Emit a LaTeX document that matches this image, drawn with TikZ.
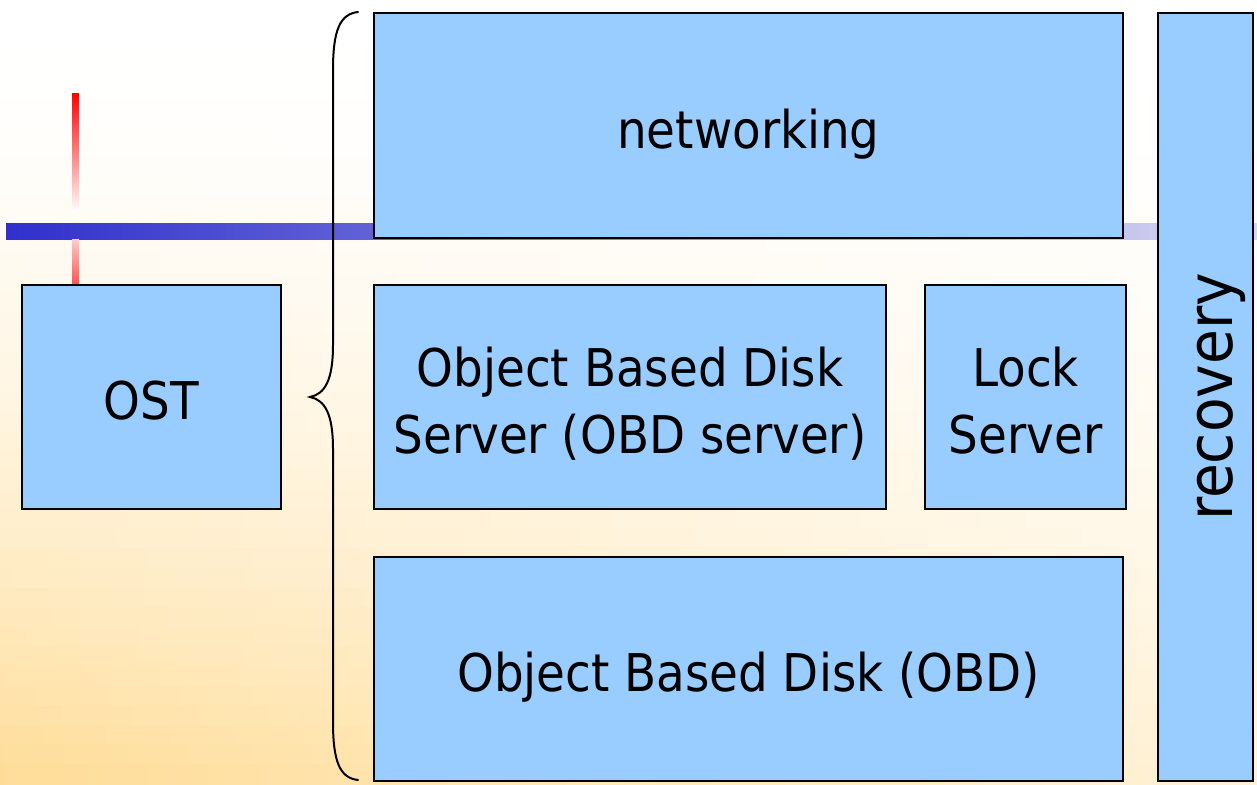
\documentclass[tikz,border=0pt]{standalone}
\usepackage{fontspec}
\setmainfont{DejaVu Sans Condensed}
\definecolor{boxblue}{HTML}{99CCFF}
\definecolor{bgcorner}{HTML}{FFDC96}
\definecolor{barleft}{HTML}{3030CC}
\definecolor{barright}{HTML}{D8D8F2}
\tikzset{
  box/.style={draw=black, line width=2pt, fill=boxblue, anchor=north west, inner sep=0pt},
  boxtext/.style={font=\fontsize{52}{67}\selectfont, inner sep=0pt, align=center, text depth=0pt},
}
\begin{document}
\begin{tikzpicture}[x=1pt,y=-1pt]
\useasboundingbox (0,0) rectangle (1257,784);
% background
\foreach \i in {0,...,39}{
  \pgfmathtruncatemacro\tl{100*((\i+0.5)/40)^1.8}
  \pgfmathtruncatemacro\tr{38*((\i+0.5)/40)^1.8}
  \pgfmathsetmacro\ya{\i*19.6}
  \pgfmathsetmacro\yb{\i*19.6+20.6}
  \shade[left color=bgcorner!\tl!white, right color=bgcorner!\tr!white] (0,\ya) rectangle (1257,\yb);
}
% blue bar
\shade[left color=barleft, right color=barright] (6,223) rectangle (1257,239);
% red line
\shade[top color=red, bottom color=white] (72,93) rectangle (79,212);
\shade[top color=red!20, bottom color=red!68] (72,239) rectangle (79,284);
% boxes
\node[box, minimum width=749pt, minimum height=225pt] (net) at (373,12) {};
\node[box, minimum width=259pt, minimum height=224pt] (ost) at (21,284) {};
\node[box, minimum width=512pt, minimum height=224pt] (obds) at (373,284) {};
\node[box, minimum width=201pt, minimum height=224pt] (lock) at (924,284) {};
\node[box, minimum width=749pt, minimum height=224pt] (obd) at (373,556) {};
\node[box, minimum width=95pt, minimum height=768pt] (rec) at (1157,12) {};
% texts
\node[boxtext] (nettext) at ([yshift=-3pt]net.center) {networking};
\node[boxtext] (osttext) at ([yshift=-3pt]ost.center) {OST};
\node[boxtext] (obdstext) at ([yshift=-3pt]obds.center) {Object Based Disk\\Server (OBD server)};
\node[boxtext] (locktext) at ([yshift=-3pt]lock.center) {Lock\\Server};
\node[boxtext] (obdtext) at ([yshift=-3pt]obd.center) {Object Based Disk (OBD)};
\node[inner sep=0pt, font=\fontsize{63}{70}\selectfont, rotate=90] (rectext) at ([xshift=16pt]rec.center) {recovery};
% brace
\draw[line width=2pt, line cap=round] (358,12) .. controls (340,14) and (333,30) .. (333,70)
  -- (333,345) .. controls (333,380) and (325,394) .. (310,397)
  .. controls (325,400) and (333,414) .. (333,449)
  -- (333,722) .. controls (333,762) and (340,778) .. (358,780);
\end{tikzpicture}
\end{document}
